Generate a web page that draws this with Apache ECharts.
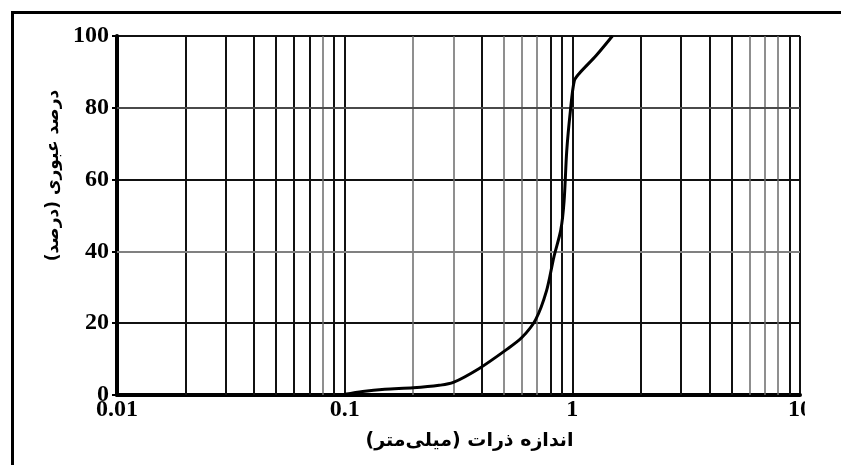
<!DOCTYPE html>
<html>
<head>
<meta charset="utf-8">
<script src="https://cdn.jsdelivr.net/npm/echarts@6/dist/echarts.min.js"></script>
<style>
body { margin: 0; background: #fff; }
#main { width: 841px; height: 465px; }
</style>
</head>
<body>
<div id="main"></div>
<script>
// grain size (mm) and percent passing
var grainSize = [0.1, 0.12, 0.15, 0.2, 0.26, 0.3, 0.39, 0.51, 0.6, 0.69, 0.77, 0.83, 0.89, 0.92, 0.945, 0.98, 1.02, 1.07, 1.27, 1.5];
var passing = [0.2, 1, 1.6, 2, 2.7, 3.5, 7.4, 12.5, 16, 21, 29, 38.5, 46, 54, 68, 79, 87.5, 89.5, 94.5, 100];
var xTicks = [0.01, 0.1, 1, 10];
var yTicks = [0, 20, 40, 60, 80, 100];
var minorX = [0.02, 0.03, 0.04, 0.05, 0.06, 0.07, 0.08, 0.09,
              0.2, 0.3, 0.4, 0.5, 0.6, 0.7, 0.8, 0.9,
              2, 3, 4, 5, 6, 7, 8, 9];
var xTitle = 'اندازه ذرات (میلی‌متر)';
var yTitle = 'درصد عبوری (درصد)';

// grid lines that look lighter in the scan
var lightLines = [0.08, 0.2, 0.3, 0.5, 0.6, 0.7, 6, 7, 8];

var points = [];
for (var i = 0; i < grainSize.length; i++) {
	points.push([grainSize[i], passing[i]]);
}
var gridLines = [];
for (var j = 0; j < minorX.length; j++) {
	var light = lightLines.indexOf(minorX[j]) >= 0;
	gridLines.push({
		xAxis: minorX[j],
		lineStyle: { color: light ? '#6a6a6a' : '#111', width: light ? 1.5 : 2, type: 'solid' }
	});
}
gridLines.push({ yAxis: 40, lineStyle: { color: '#808080', width: 2, type: 'solid' } });
gridLines.push({ yAxis: 80, lineStyle: { color: '#4a4a4a', width: 2, type: 'solid' } });

var myChart = echarts.init(document.getElementById('main'));
var option = {
	animation: false,
	backgroundColor: '#fff',
	grid: { left: 117, right: 41, top: 36, bottom: 70 },
	xAxis: {
		type: 'log',
		logBase: 10,
		min: xTicks[0],
		max: xTicks[xTicks.length - 1],
		name: xTitle,
		nameLocation: 'middle',
		nameGap: 37,
		nameTextStyle: { fontFamily: 'DejaVu Sans', fontWeight: 'bold', fontSize: 19, color: '#000', padding: [0, 0, 0, 22] },
		axisLine: { show: true, lineStyle: { color: '#000', width: 4 } },
		axisTick: { show: false },
		axisLabel: {
			fontFamily: 'Liberation Serif', fontWeight: 'bold', fontSize: 24, color: '#000', margin: 3,
			formatter: function (v) { return String(v); }
		},
		splitLine: { show: true, lineStyle: { color: '#111', width: 2 } }
	},
	yAxis: {
		type: 'value',
		min: yTicks[0],
		max: yTicks[yTicks.length - 1],
		interval: 20,
		name: yTitle,
		nameLocation: 'middle',
		nameGap: 50,
		nameRotate: 90,
		nameTextStyle: { fontFamily: 'DejaVu Sans', fontWeight: 'bold', fontSize: 17, color: '#000', padding: [0, 0, 0, 80] },
		axisLine: { show: true, lineStyle: { color: '#000', width: 4 } },
		axisTick: { show: true, length: 5, lineStyle: { color: '#000', width: 2 } },
		axisLabel: { fontFamily: 'Liberation Serif', fontWeight: 'bold', fontSize: 24, color: '#000', margin: 8 },
		splitLine: { show: true, lineStyle: { color: '#111', width: 2 } }
	},
	graphic: [
		{
			type: 'rect', left: 10, top: 10, z: 100,
			shape: { width: 840, height: 470 },
			style: { fill: 'none', stroke: '#000', lineWidth: 3 }
		},
		{
			// the scan cuts the last tick label at the frame edge
			type: 'rect', left: 805, top: 400, z: 100,
			shape: { width: 36, height: 26 },
			style: { fill: '#fff' }
		}
	],
	series: [
		{
			type: 'line',
			data: points,
			smooth: 0.3,
			symbol: 'none',
			lineStyle: { color: '#000', width: 3 },
			z: 5,
			markLine: {
				silent: true,
				symbol: 'none',
				label: { show: false },
				data: gridLines
			}
		}
	]
};
myChart.setOption(option);
</script>
</body>
</html>
